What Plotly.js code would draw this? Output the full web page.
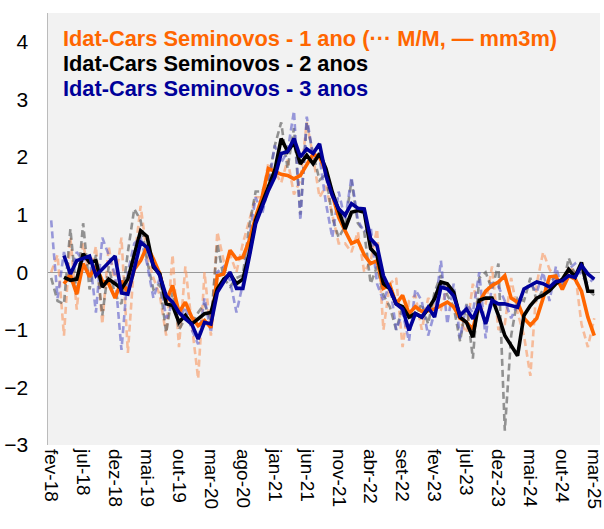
<!DOCTYPE html>
<html><head><meta charset="utf-8">
<script src="https://cdn.plot.ly/plotly-3.0.1.min.js"></script>
<style>html,body{margin:0;padding:0;background:#fff}#chart{width:604px;height:529px}</style>
</head><body><div id="chart"></div>
<script>
var months = ["fev-18","mar-18","abr-18","mai-18","jun-18","jul-18","ago-18","set-18","out-18","nov-18","dez-18",
"jan-19","fev-19","mar-19","abr-19","mai-19","jun-19","jul-19","ago-19","set-19","out-19","nov-19","dez-19",
"jan-20","fev-20","mar-20","abr-20","mai-20","jun-20","jul-20","ago-20","set-20","out-20","nov-20","dez-20",
"jan-21","fev-21","mar-21","abr-21","mai-21","jun-21","jul-21","ago-21","set-21","out-21","nov-21","dez-21",
"jan-22","fev-22","mar-22","abr-22","mai-22","jun-22","jul-22","ago-22","set-22","out-22","nov-22","dez-22",
"jan-23","fev-23","mar-23","abr-23","mai-23","jun-23","jul-23","ago-23","set-23","out-23","nov-23","dez-23",
"jan-24","fev-24","mar-24","abr-24","mai-24","jun-24","jul-24","ago-24","set-24","out-24","nov-24","dez-24",
"jan-25","fev-25","mar-25"];

var tickLabels = ["fev-18","jul-18","dez-18","mai-19","out-19","mar-20","ago-20","jan-21","jun-21","nov-21",
"abr-22","set-22","fev-23","jul-23","dez-23","mai-24","out-24","mar-25"];

// M/M (dashed)
var mm1ano = [0.0,0.3,-1.1,0.6,-0.65,0.5,-0.1,0.45,-0.9,0.45,-0.2,0.6,-1.4,0.2,1.15,0.3,-0.1,-0.4,-1.1,0.3,
-1.3,0.1,-0.9,-1.85,0.0,-1.1,0.7,0.2,0.3,0.0,0.5,0.9,1.3,1.3,1.9,1.75,1.55,1.95,1.35,1.6,
2.6,2.0,1.3,1.5,1.0,0.5,0.5,0.35,0.7,0.0,0.2,0.75,-1.0,-0.2,-0.1,-1.3,-0.5,-0.4,-1.0,-0.45,
-0.6,-0.65,-0.25,-0.35,-0.85,-1.05,-0.2,-0.7,-0.55,0.1,-1.0,-0.9,-0.1,-0.7,-1.1,-1.8,-0.2,0.35,0.05,-0.1,
-0.3,0.1,0.0,-0.9,-1.3,-0.8];
var mm2anos = [-0.1,-0.5,-0.55,0.75,-0.4,0.85,-0.3,0.3,-0.75,0.1,-0.4,-0.55,0.35,1.1,0.9,0.2,-0.3,-0.2,-1.05,-0.35,
-1.0,-0.8,-0.9,-0.7,-0.55,-0.85,0.5,-0.1,-0.25,-0.1,-0.05,0.8,1.4,1.4,1.6,2.2,2.6,1.8,2.5,1.0,
2.6,2.05,1.6,1.7,0.95,0.6,0.8,1.6,0.85,0.7,-0.2,0.1,-0.4,-0.6,-1.0,-0.6,-0.8,-0.75,-0.55,-0.9,
-0.35,-0.05,-0.4,-0.6,-1.2,-0.55,-1.5,-0.1,0.0,-0.3,0.15,-2.75,-1.1,-0.45,-0.5,-0.1,-0.5,-0.3,-0.2,-0.05,
-0.3,0.25,-0.05,0.1,-0.3,-0.4];
var mm3anos = [0.9,-0.45,0.35,-0.1,0.35,0.2,0.3,-0.7,0.6,0.3,-0.05,-1.35,0.0,0.5,0.6,0.15,-0.45,-0.1,-0.8,-0.55,
-0.85,-0.6,-1.0,-1.25,-0.45,-1.05,0.0,0.1,-0.15,-0.7,-0.2,0.6,1.3,1.0,1.5,2.2,1.9,2.1,2.8,0.9,
2.7,2.0,2.0,1.2,0.6,1.4,0.9,1.65,0.9,0.7,0.8,-0.2,-0.5,-0.2,-1.0,-0.7,-1.2,-0.3,-0.5,-1.1,
-0.7,0.2,-0.9,-0.2,-1.15,-0.55,-0.7,0.0,-1.15,-0.2,-0.25,-0.5,-0.8,-0.55,-0.3,-0.2,-0.35,0.0,-0.5,0.1,
-0.3,0.05,0.15,-0.05,-0.2,-0.1];

// mm3m (solid)
var m3m1ano = [null,null,-0.2,-0.05,-0.38,0.15,-0.08,0.1,-0.15,-0.2,-0.45,-0.15,-0.35,0.05,0.2,0.45,0.23,-0.03,-0.5,-0.23,
-0.7,-0.52,-0.78,-0.93,-0.84,-0.96,-0.06,-0.03,0.38,0.23,0.26,0.55,0.96,1.3,1.8,1.75,1.7,1.68,1.62,1.68,
1.86,2.05,2.0,1.75,1.35,0.95,0.72,0.5,0.55,0.3,0.15,0.2,-0.28,-0.22,-0.55,-0.4,-0.72,-0.6,-0.68,-0.67,
-0.64,-0.58,-0.52,-0.6,-0.8,-0.87,-0.99,-0.52,-0.33,-0.23,-0.17,-0.06,-0.45,-0.52,-0.8,-0.92,-0.8,-0.45,-0.08,-0.07,
-0.3,-0.06,-0.12,-0.33,-0.78,-1.1];
var m3m2anos = [null,null,-0.09,-0.14,-0.12,0.32,0.17,0.2,-0.26,-0.12,-0.2,-0.29,-0.12,0.29,0.72,0.62,0.09,-0.03,-0.55,-0.58,
-0.87,-0.75,-0.9,-0.81,-0.72,-0.7,-0.29,-0.12,-0.03,-0.2,-0.12,0.32,0.9,1.19,1.48,1.77,2.32,2.1,2.25,1.88,
2.03,1.88,2.06,1.8,1.39,1.07,0.75,1.04,1.07,1.04,0.41,0.29,-0.2,-0.29,-0.55,-0.6,-0.78,-0.72,-0.78,-0.64,
-0.46,-0.17,-0.2,-0.35,-0.78,-0.87,-1.13,-0.49,-0.45,-0.45,-0.75,-1.1,-1.28,-1.45,-0.75,-0.58,-0.45,-0.4,-0.32,-0.2,
-0.12,0.05,-0.08,0.17,-0.33,-0.33];
var m3m3anos = [null,null,0.29,-0.03,0.2,0.24,0.28,-0.06,0.06,0.17,0.28,-0.36,-0.38,0.06,0.52,0.43,0.12,-0.06,-0.41,-0.52,
-0.7,-0.81,-0.9,-1.16,-0.87,-0.9,-0.35,-0.17,0.0,-0.28,-0.28,0.26,0.84,1.13,1.42,1.65,2.06,2.09,2.32,2.0,
2.14,2.06,2.23,1.68,1.33,1.1,0.99,1.19,1.11,1.1,0.58,0.46,-0.06,-0.29,-0.55,-0.64,-1.01,-0.72,-0.78,-0.61,
-0.78,-0.26,-0.29,-0.41,-0.75,-0.64,-0.81,-0.55,-0.9,-0.49,-0.55,-0.55,-0.58,-0.61,-0.29,-0.23,-0.17,-0.2,-0.26,-0.16,
-0.15,-0.06,-0.09,0.12,-0.03,-0.12];

var legendLines = ["Idat-Cars Seminovos - 1 ano (\u00b7\u00b7\u00b7 M/M, \u2014 mm3m)",
"Idat-Cars Seminovos - 2 anos","Idat-Cars Seminovos - 3 anos"];
var colors = ["#FF6600","#000000","#000099"];
var dashColors = ["rgba(248,150,95,0.6)","rgba(80,80,80,0.6)","rgba(90,90,200,0.6)"];

function dashed(y,c){return {x:months,y:y,type:'scatter',mode:'lines',line:{color:c,width:2.6,dash:'7px,4px'},hoverinfo:'skip'};}
function solid(y,c){return {x:months,y:y,type:'scatter',mode:'lines',line:{color:c,width:3.6},connectgaps:false};}

var data = [dashed(mm1ano,dashColors[0]),dashed(mm2anos,dashColors[1]),dashed(mm3anos,dashColors[2]),
  solid(m3m1ano,colors[0]),solid(m3m2anos,colors[1]),solid(m3m3anos,colors[2])];

var tickVals = [];
for (var i=0;i<months.length;i+=5){tickVals.push(months[i]);}

var annotations = legendLines.map(function(t,k){
  return {text:t,xref:'paper',yref:'paper',x:0.024,y:0.942-k*0.058,xanchor:'left',yanchor:'middle',
    showarrow:false,font:{family:'Liberation Sans, Arial',size:21.8,color:colors[k],weight:'bold'}};
});

var layout = {
  width:604,height:529,
  margin:{l:48,r:4,t:13,b:84},
  paper_bgcolor:'#ffffff',plot_bgcolor:'#f2f2f2',
  showlegend:false,
  font:{family:'Liberation Sans, Arial',color:'#000'},
  xaxis:{type:'category',range:[-0.5,85.9],tickmode:'array',tickvals:tickVals,ticktext:tickLabels,
    tickangle:90,tickfont:{size:19,color:'#000'},showgrid:false,zeroline:false,showline:false,ticks:'',
    ticklabelstandoff:3},
  yaxis:{range:[-3,4.5],tickvals:[-3,-2,-1,0,1,2,3,4],tickfont:{size:21,color:'#000'},showgrid:false,
    zeroline:true,zerolinecolor:'#999',zerolinewidth:1,showline:true,linecolor:'#bbb',linewidth:1.5,ticks:'',
    ticklabelstandoff:14},
  annotations:annotations
};
Plotly.newPlot('chart',data,layout,{staticPlot:true});
</script></body></html>
